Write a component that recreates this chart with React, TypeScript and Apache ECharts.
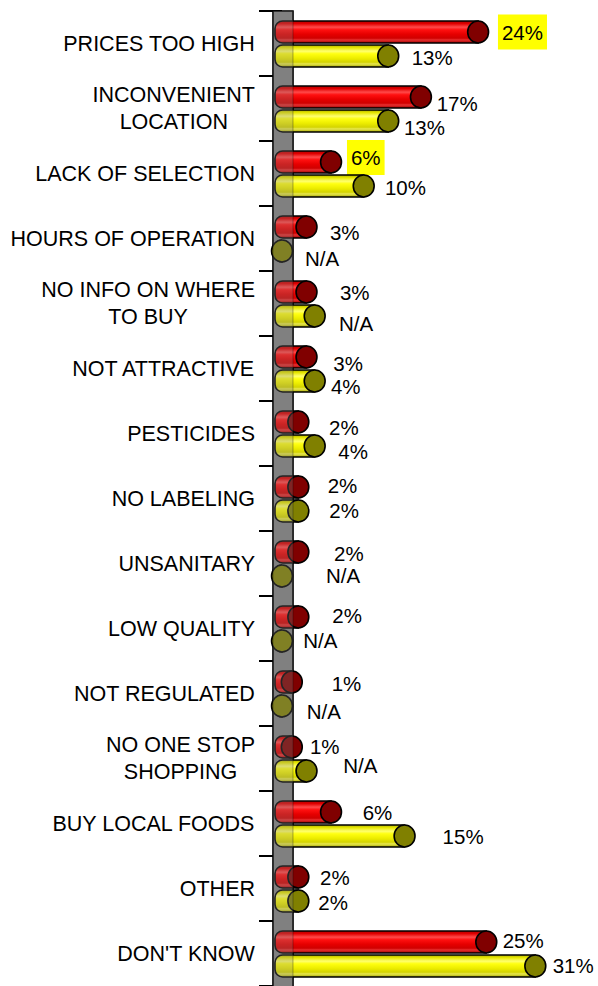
import React, { useEffect, useRef } from 'react';
import * as echarts from 'echarts';

const categories = [
  'PRICES TOO HIGH',
  'INCONVENIENT\nLOCATION',
  'LACK OF SELECTION',
  'HOURS OF OPERATION',
  'NO INFO ON WHERE\nTO BUY',
  'NOT ATTRACTIVE',
  'PESTICIDES',
  'NO LABELING',
  'UNSANITARY',
  'LOW QUALITY',
  'NOT REGULATED',
  'NO ONE STOP\nSHOPPING',
  'BUY LOCAL FOODS',
  'OTHER',
  "DON'T KNOW",
];

const redValues = [24, 17, 6, 3, 3, 3, 2, 2, 2, 2, 1.2, 1.2, 6, 2, 25];
const redLabels = ['24%', '17%', '6%', '3%', '3%', '3%', '2%', '2%', '2%', '2%', '1%', '1%', '6%', '2%', '25%'];
const yellowValues = [13, 13, 10, 0, 4, 4, 4, 2, 0, 0, 0, 3, 15, 2, 31];
const yellowLabels = ['13%', '13%', '10%', 'N/A', 'N/A', '4%', '4%', '2%', 'N/A', 'N/A', 'N/A', 'N/A', '15%', '2%', '31%'];

// label layout nudges: [gap from cap, vertical shift]
const redLabelNudge = [
  [9.4, 0], [5.3, 6.7], [5.5, -4.5], [13, 5], [23, 0.5], [16.3, 6.3], [20.2, 5.3], [18.9, -2],
  [25.2, 1], [23.5, -1.7], [29.4, 1.7], [7.7, -0.3], [21.2, 0.7], [11.2, 0.3], [5.9, -1.7],
];
const yellowLabelNudge = [
  [13, 1.5], [5.3, 6], [10.8, 1.8], [12.5, 7.3], [13.8, 7.8], [5.8, 5.3], [13.1, 5.2], [20.5, -1],
  [33.5, -1], [10.8, -0.7], [14.2, 5.2], [26.3, -5.5], [27.6, 0.3], [9.5, 1.5], [6.9, -0.2],
];
const redHighlighted = [0, 2];

const FONT = '"Liberation Sans", Arial, Helvetica, sans-serif';

const bodyGradients = [
  {
    type: 'linear', x: 0, y: 0, x2: 0, y2: 1,
    colorStops: [
      { offset: 0, color: '#b00000' },
      { offset: 0.12, color: '#e00000' },
      { offset: 0.28, color: '#ff4a4a' },
      { offset: 0.4, color: '#ff1010' },
      { offset: 0.6, color: '#e60000' },
      { offset: 0.78, color: '#d00000' },
      { offset: 0.86, color: '#e83030' },
      { offset: 1, color: '#a00000' },
    ],
  },
  {
    type: 'linear', x: 0, y: 0, x2: 0, y2: 1,
    colorStops: [
      { offset: 0, color: '#b0b000' },
      { offset: 0.12, color: '#e6e600' },
      { offset: 0.28, color: '#ffff70' },
      { offset: 0.4, color: '#ffff10' },
      { offset: 0.6, color: '#eded00' },
      { offset: 0.78, color: '#d4d400' },
      { offset: 0.86, color: '#e8e850' },
      { offset: 1, color: '#a8a800' },
    ],
  },
];
const capColors = ['#800000', '#808000'];
const centerOffsetRatio = [-11.5 / 65, 12.5 / 65];
const barHeightRatio = 22 / 65;

function makeBarRender(kind: number) {
  const labels = kind === 0 ? redLabels : yellowLabels;
  const nudges = kind === 0 ? redLabelNudge : yellowLabelNudge;
  return (params: any, api: any) => {
    const i = params.dataIndex;
    const v = api.value(0);
    const ci = api.value(1);
    const end = api.coord([v, ci]);
    const start = api.coord([0, ci]);
    const band = api.size([0, 1])[1];
    const h = band * barHeightRatio;
    const r = h / 2;
    const rx = r * 0.95;
    const cy = end[1] + band * centerOffsetRatio[kind];
    const left = start[0] - 7;
    const hl = kind === 0 && redHighlighted.indexOf(i) >= 0;
    const nudge = nudges[i];
    const textStyle: any = {
      text: labels[i],
      x: end[0] + rx + nudge[0],
      y: cy + nudge[1],
      fill: '#000',
      font: `20.5px ${FONT}`,
      fontSize: 20.5,
      fontFamily: FONT,
      align: 'left',
      verticalAlign: 'middle',
      textAlign: 'left',
      textVerticalAlign: 'middle',
    };
    if (hl) {
      textStyle.backgroundColor = '#ffff00';
      textStyle.padding = [7, 4];
    }
    return {
      type: 'group',
      children: [
        {
          type: 'rect',
          shape: { x: left, y: cy - r, width: Math.max(end[0] - left, 0.1), height: h, r: [r * 0.7, 0, 0, r * 0.7] },
          style: { fill: bodyGradients[kind], stroke: '#000', lineWidth: 1.6 },
        },
        {
          type: 'ellipse',
          shape: { cx: end[0], cy, rx, ry: r },
          style: { fill: capColors[kind], stroke: '#000', lineWidth: 1.6 },
        },
        { type: 'text', style: textStyle },
      ],
    };
  };
}

function makeWallRender(overlay: boolean) {
  return (params: any, api: any) => {
    const cs = params.coordSys;
    const x0 = api.coord([0, 0])[0];
    return {
      type: 'rect',
      shape: { x: x0 - 9, y: cs.y, width: 20, height: cs.height + 4 },
      style: overlay
        ? { fill: 'rgba(128,128,128,0.28)', stroke: 'rgba(0,0,0,0.3)', lineWidth: 1 }
        : { fill: '#808080', stroke: '#000', lineWidth: 1.6 },
    };
  };
}

export default function App() {
  const ref = useRef<HTMLDivElement>(null);
  useEffect(() => {
    if (!ref.current) return;
    const chart = echarts.init(ref.current, undefined, { renderer: 'svg' });
    chart.setOption({
      animation: false,
      backgroundColor: '#fff',
      grid: { left: 282, right: 30, top: 11, bottom: 0, containLabel: false },
      xAxis: { type: 'value', min: 0, max: 35, show: false },
      yAxis: {
        type: 'category',
        inverse: true,
        data: categories,
        axisLine: { show: false },
        axisTick: { show: true, length: 23, lineStyle: { color: '#000', width: 2 } },
        axisLabel: {
          interval: 0,
          margin: 27,
          color: '#000',
          fontSize: 21.5,
          fontFamily: FONT,
          lineHeight: 27,
          formatter: (val: string) => val.split('\n').map((l) => `{c|${l}}`).join('\n'),
          rich: { c: { align: 'center', fontSize: 21.5, fontFamily: FONT, color: '#000', lineHeight: 27 } },
        },
        splitLine: { show: false },
      },
      series: [
        { type: 'custom', z: 1, silent: true, renderItem: makeWallRender(false), data: [[0, 0]] },
        { type: 'custom', z: 2, silent: true, renderItem: makeBarRender(0), data: redValues.map((v, i) => [v, i]) },
        { type: 'custom', z: 2, silent: true, renderItem: makeBarRender(1), data: yellowValues.map((v, i) => [v, i]) },
        { type: 'custom', z: 3, silent: true, renderItem: makeWallRender(true), data: [[0, 0]] },
      ],
    });
    return () => chart.dispose();
  }, []);
  return <div ref={ref} style={{ position: 'fixed', left: 0, top: 0, width: 598, height: 986 }} />;
}
